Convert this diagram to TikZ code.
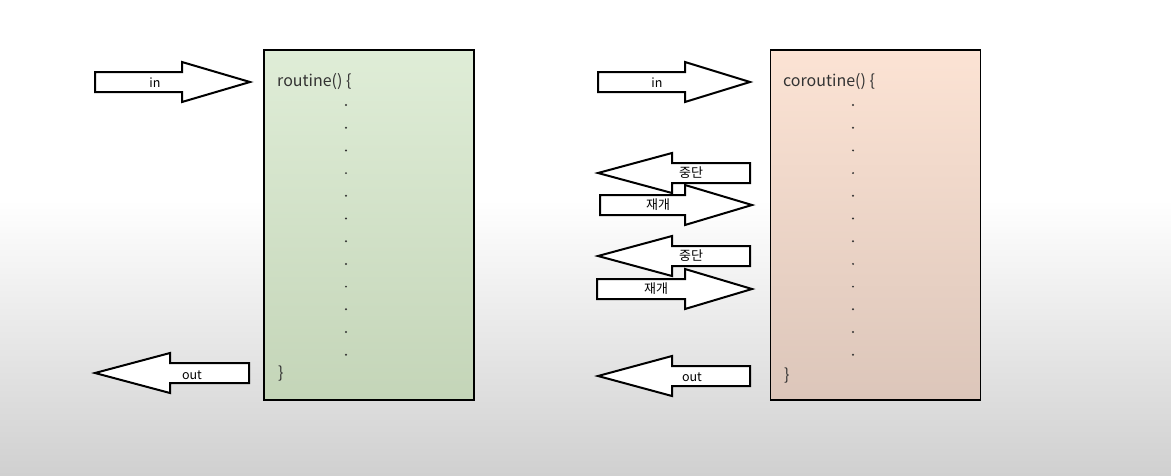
\documentclass[tikz,border=0pt]{standalone}
\usepackage{fontspec}
\setmainfont{Noto Sans CJK KR}
\usetikzlibrary{positioning,calc}
\definecolor{routinegreen}{RGB}{223,237,215}
\definecolor{routinegreendark}{RGB}{196,213,184}
\definecolor{corpeach}{RGB}{252,227,212}
\definecolor{corpeachdark}{RGB}{220,198,186}
\definecolor{bggray}{RGB}{208,208,208}

\tikzset{
  blockarrow/.style={draw=black,line width=2pt,fill=white,line join=miter},
  codebox/.style={draw=black,line width=1.6pt,minimum width=210pt,minimum height=350pt,inner sep=0pt},
  code/.style={font=\fontsize{16}{18}\selectfont,anchor=west,inner sep=0pt,text=black!80},
  tag/.style={font=\fontsize{12.5}{14}\selectfont,inner sep=0pt},
  hangul/.style={font=\fontsize{13}{15}\selectfont,inner sep=0pt},
}
% right-pointing block arrow: tail x, head x, tip x, centre y
\newcommand{\rightblock}[4]{%
  \draw[blockarrow] (#1,#4-10) -- (#2,#4-10) -- (#2,#4-20) -- (#3,#4)
    -- (#2,#4+20) -- (#2,#4+10) -- (#1,#4+10) -- cycle;}
% left-pointing block arrow: tip x, head x, tail x, centre y
\newcommand{\leftblock}[4]{%
  \draw[blockarrow] (#3,#4-10) -- (#2,#4-10) -- (#2,#4-20) -- (#1,#4)
    -- (#2,#4+20) -- (#2,#4+10) -- (#3,#4+10) -- cycle;}

\begin{document}
\begin{tikzpicture}[x=1pt,y=-1pt]
  \useasboundingbox (0,0) rectangle (1171,475);
  % background fade
  \fill[white] (0,0) rectangle (1171,200);
  \shade[top color=white,bottom color=bggray] (0,200) rectangle (1171,475);

  % the two bodies
  \node[codebox,top color=routinegreen,bottom color=routinegreendark] (routine) at (369,225) {};
  \node[codebox,top color=corpeach,bottom color=corpeachdark] (coroutine) at (875.5,225) {};

  \node[code] (rhead) at (277,82) {routine() \{};
  \node[code] (rtail) at (278,374) {\}};
  \node[code] (chead) at (783,82) {coroutine() \{};
  \node[code] (ctail) at (784,376) {\}};

  \foreach \y in {105,127.7,...,356} {
    \fill[black!80] (346,\y) circle (1.1);
    \fill[black!80] (853,\y) circle (1.1);
  }

  % routine: in / out
  \rightblock{95}{182}{250}{82}
  \node[tag] (rin) at (155,83) {in};
  \leftblock{95}{170}{249}{373}
  \node[tag] (rout) at (192,375) {out};

  % coroutine: in / suspend / resume / out
  \rightblock{598}{685}{750}{82}
  \node[tag] (cin) at (657,83) {in};
  \leftblock{598}{672}{750}{173}
  \node[hangul] (stop1) at (691,173) {중단};
  \rightblock{600}{685}{752}{205}
  \node[hangul] (resume1) at (658,205) {재개};
  \leftblock{598}{672}{750}{256}
  \node[hangul] (stop2) at (691,256) {중단};
  \rightblock{597}{685}{752}{289}
  \node[hangul] (resume2) at (656,289) {재개};
  \leftblock{598}{672}{750}{376}
  \node[tag] (cout) at (692,377) {out};
\end{tikzpicture}
\end{document}
